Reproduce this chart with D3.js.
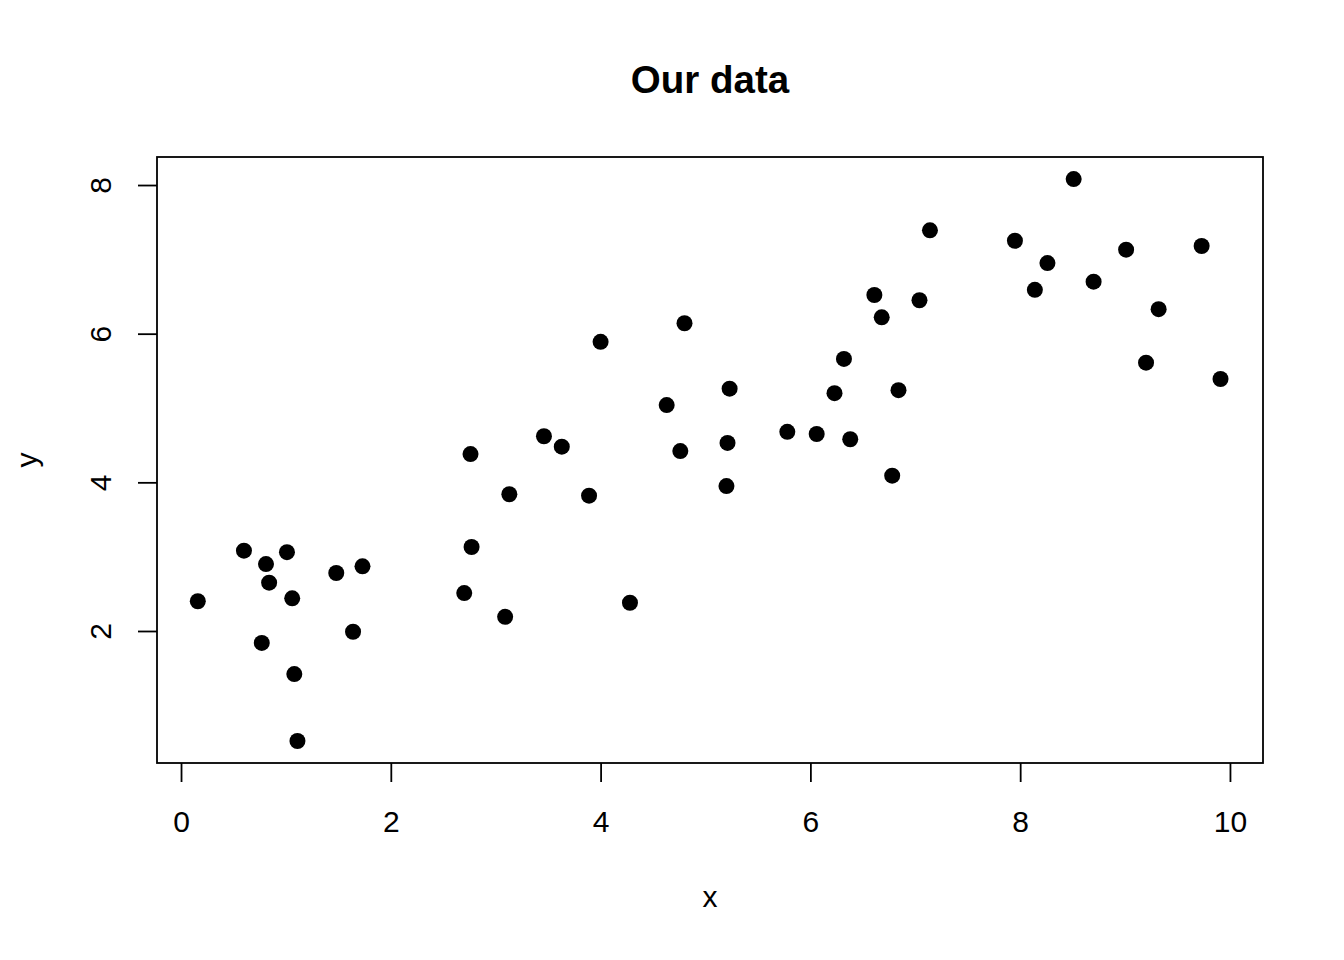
<!DOCTYPE html>
<html><head><meta charset="utf-8">
<script src="https://d3js.org/d3.v7.min.js"></script>
<style>body{margin:0;background:#fff}svg{display:block}text{font-family:"Liberation Sans",Arial,Helvetica,sans-serif;fill:#000}</style>
</head><body>
<svg id="chart" width="1344" height="960"></svg>
<script>
const xValues = [0.16,0.60,0.81,0.84,0.77,1.01,1.06,1.08,1.11,1.48,1.73,1.64,2.70,2.76,2.77,3.09,3.13,3.46,3.63,3.89,4.00,4.28,4.63,4.76,4.80,5.20,5.21,5.23,5.78,6.06,6.23,6.32,6.38,6.61,6.68,6.78,6.84,7.04,7.14,7.95,8.14,8.26,8.51,8.70,9.01,9.20,9.32,9.73,9.91];
const yValues = [2.40,3.08,2.90,2.65,1.84,3.06,2.44,1.42,0.52,2.78,2.87,1.99,2.51,4.38,3.13,2.19,3.84,4.62,4.48,3.82,5.89,2.38,5.04,4.42,6.14,3.95,4.53,5.26,4.68,4.65,5.20,5.66,4.58,6.52,6.22,4.09,5.24,6.45,7.39,7.25,6.59,6.95,8.08,6.70,7.13,5.61,6.33,7.18,5.39];
const xTicks = [0,2,4,6,8,10];
const yTicks = [2,4,6,8];
const titleText = "Our data";
const xLabel = "x", yLabel = "y";

const svg = d3.select("#chart");
const L = 157, R = 1263, T = 157, B = 763;
const x = d3.scaleLinear().domain([-0.229, 10.315]).range([L, R]);
const y = d3.scaleLinear().domain([0.224, 8.377]).range([B, T]);

svg.append("rect").attr("x", L).attr("y", T).attr("width", R - L).attr("height", B - T)
  .attr("fill", "none").attr("stroke", "#000").attr("stroke-width", 1.8);

const xa = svg.append("g").attr("transform", `translate(0,${B})`)
  .call(d3.axisBottom(x).tickValues(xTicks).tickSize(19).tickPadding(29).tickFormat(d3.format("d")));
xa.select(".domain").remove();
xa.selectAll("line").attr("stroke-width", 1.8);
xa.selectAll("text").attr("font-size", 30).attr("fill", "#000").style("font-family", "Liberation Sans, Arial, sans-serif");

const ya = svg.append("g").attr("transform", `translate(${L},0)`)
  .call(d3.axisLeft(y).tickValues(yTicks).tickSize(19).tickFormat(d3.format("d")));
ya.select(".domain").remove();
ya.selectAll("line").attr("stroke-width", 1.8);
ya.selectAll("text").attr("x", null).attr("dy", null)
  .attr("font-size", 30).attr("fill", "#000").style("font-family", "Liberation Sans, Arial, sans-serif")
  .attr("text-anchor", "middle")
  .attr("transform", "translate(-46,0) rotate(-90)");

svg.selectAll("circle.pt").data(xValues.map((v, i) => [v, yValues[i]])).enter()
  .append("circle").attr("class", "pt")
  .attr("cx", d => x(d[0])).attr("cy", d => y(d[1])).attr("r", 8).attr("fill", "#000");

svg.append("text").attr("x", (L + R) / 2).attr("y", 93).attr("text-anchor", "middle")
  .attr("font-size", 38.5).attr("font-weight", "bold").text(titleText);
svg.append("text").attr("x", (L + R) / 2).attr("y", 907).attr("text-anchor", "middle")
  .attr("font-size", 30).text(xLabel);
svg.append("text").attr("transform", `translate(37,${(T + B) / 2}) rotate(-90)`).attr("text-anchor", "middle")
  .attr("font-size", 30).text(yLabel);
</script>
</body></html>
